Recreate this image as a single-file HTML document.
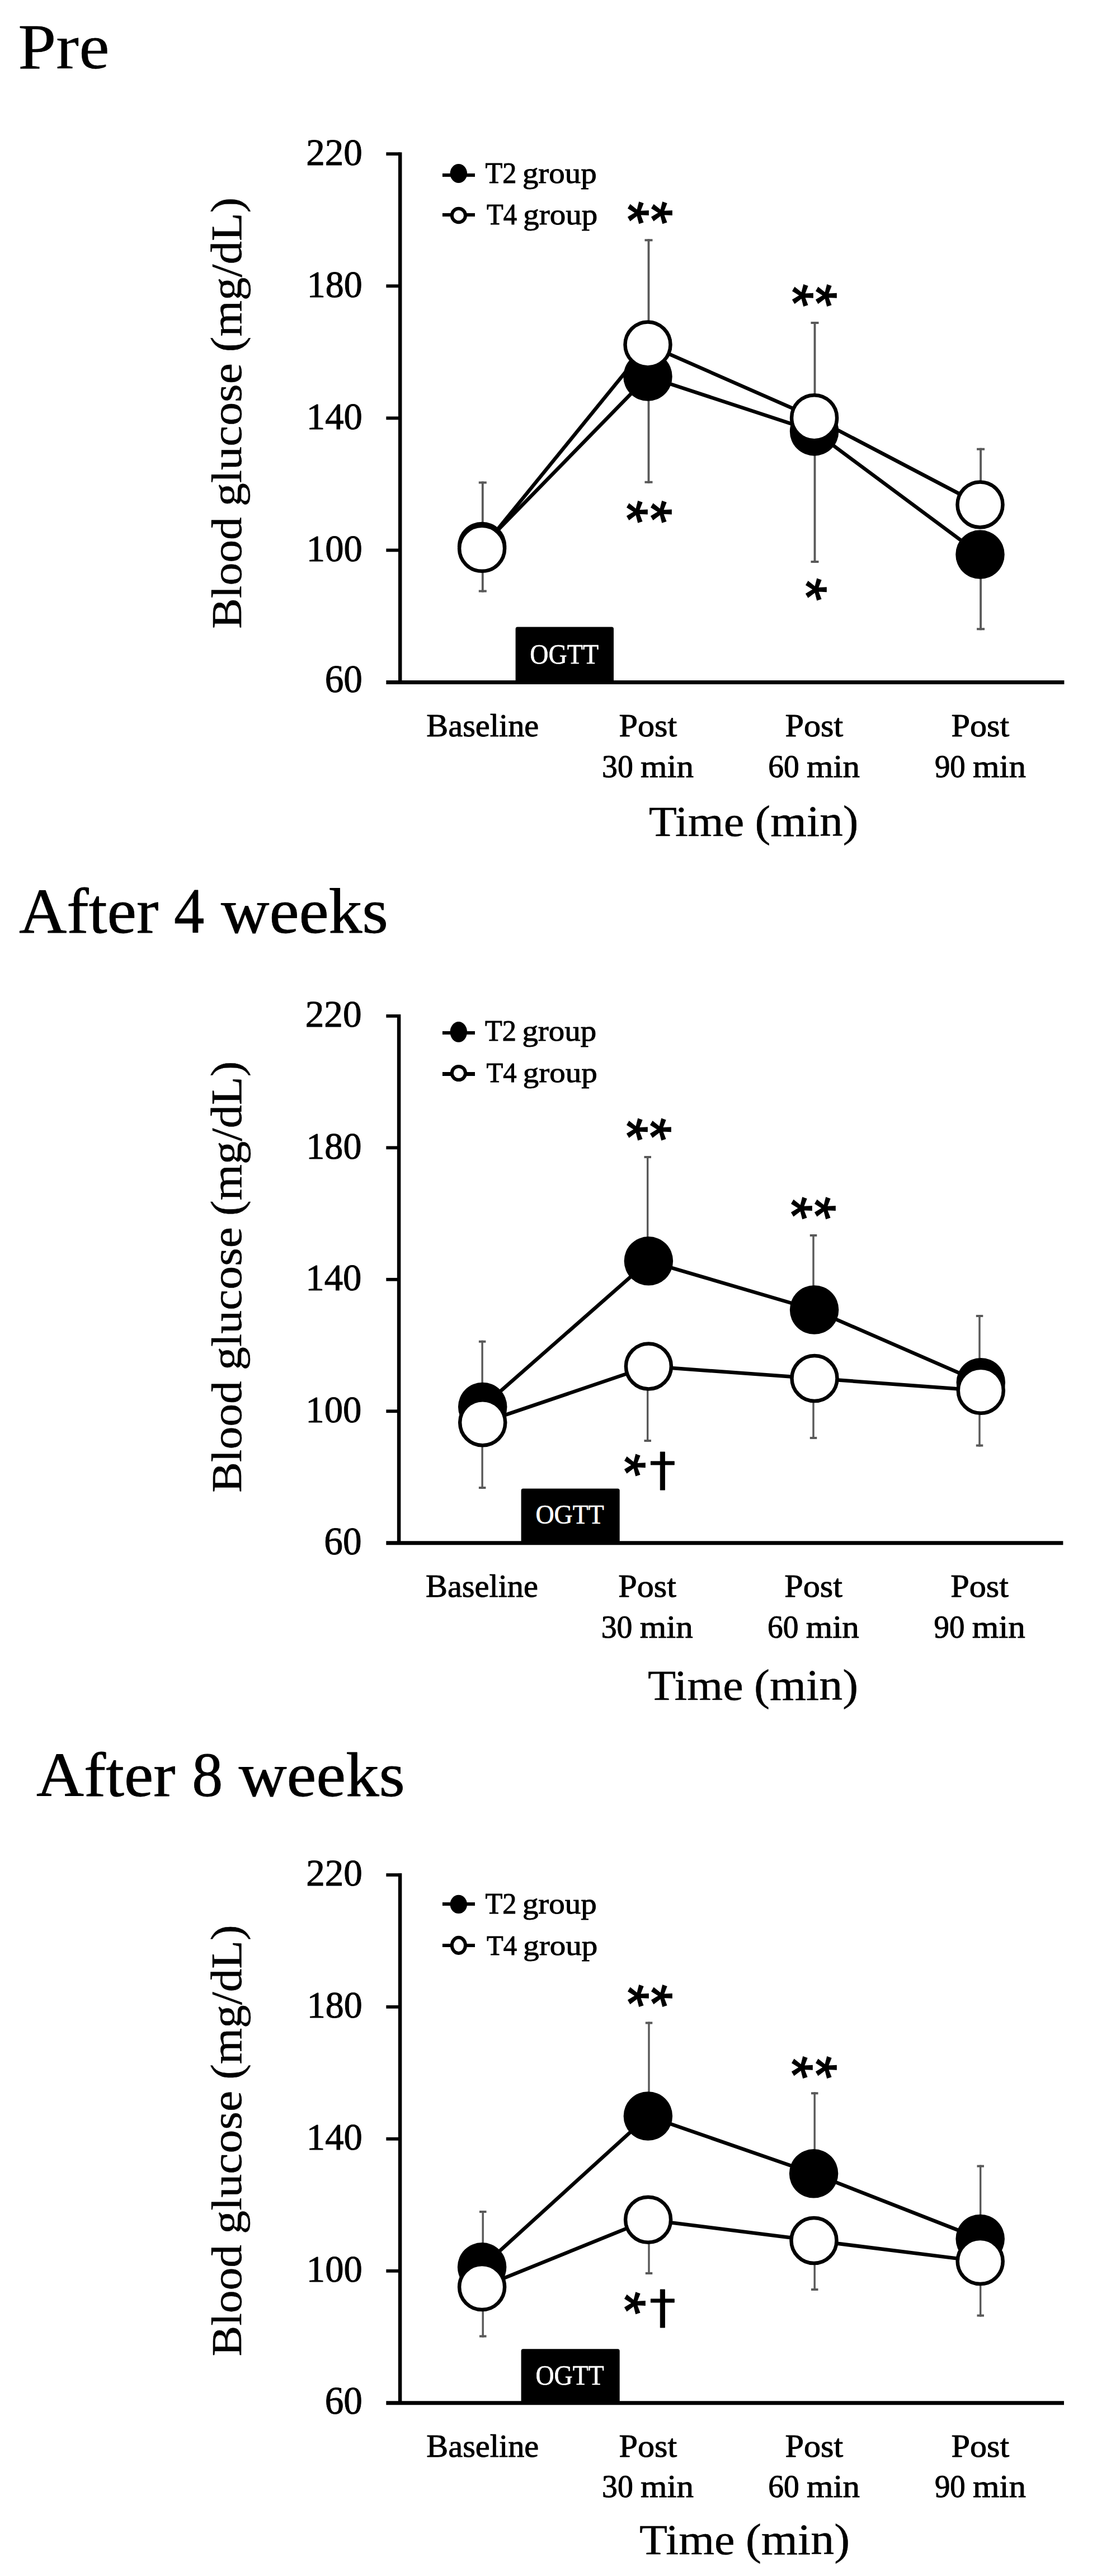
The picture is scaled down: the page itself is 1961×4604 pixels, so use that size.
<!DOCTYPE html>
<html lang="en"><head><meta charset="utf-8"><title>OGTT blood glucose</title>
<style>html,body{margin:0;padding:0;background:#fff}svg{display:block}text{font-family:"Liberation Serif", "DejaVu Serif", serif}</style></head><body>
<svg width="1961" height="4604" viewBox="0 0 1961 4604">
<rect width="1961" height="4604" fill="#fff"/>
<g>
<text transform="matrix(1.2260 0 0 1.1504 32.17 122.20)" font-size="100" fill="#000" stroke="#000" stroke-width="0.25" stroke-linejoin="round">Pre</text>
<path d="M862.8 860.6 V976.5 M862.8 980.3 V1058.4" stroke="#595959" stroke-width="3.8" fill="none"/>
<path d="M855.8 862.6 h14.0 M855.8 1056.4 h14.0" stroke="#595959" stroke-width="4" fill="none"/>
<path d="M1159.5 427.3 V616.0 M1159.5 673.0 V863.8" stroke="#595959" stroke-width="3.8" fill="none"/>
<path d="M1152.5 429.3 h14.0 M1152.5 861.8 h14.0" stroke="#595959" stroke-width="4" fill="none"/>
<path d="M1456.5 574.9 V746.7 M1456.5 770.9 V1005.9" stroke="#595959" stroke-width="3.8" fill="none"/>
<path d="M1449.5 576.9 h14.0 M1449.5 1003.9 h14.0" stroke="#595959" stroke-width="4" fill="none"/>
<path d="M1753.1 800.8 V902.0 M1753.1 991.1 V1126.2" stroke="#595959" stroke-width="3.8" fill="none"/>
<path d="M1746.1 802.8 h14.0 M1746.1 1124.2 h14.0" stroke="#595959" stroke-width="4" fill="none"/>
<polyline points="861.6,976.5 1158.0,673.0 1455.6,770.9 1752.0,991.1" fill="none" stroke="#000" stroke-width="6.5" stroke-linejoin="round"/>
<polyline points="861.6,980.3 1158.0,616.0 1455.6,746.7 1752.0,902.0" fill="none" stroke="#000" stroke-width="6.5" stroke-linejoin="round"/>
<circle cx="861.6" cy="976.5" r="43.75" fill="#000"/>
<circle cx="1158.0" cy="673.0" r="43.75" fill="#000"/>
<circle cx="1455.6" cy="770.9" r="43.75" fill="#000"/>
<circle cx="1752.0" cy="991.1" r="43.75" fill="#000"/>
<circle cx="861.6" cy="980.3" r="40.50" fill="#fff" stroke="#000" stroke-width="6.5"/>
<circle cx="1158.0" cy="616.0" r="40.50" fill="#fff" stroke="#000" stroke-width="6.5"/>
<circle cx="1455.6" cy="746.7" r="40.50" fill="#fff" stroke="#000" stroke-width="6.5"/>
<circle cx="1752.0" cy="902.0" r="40.50" fill="#fff" stroke="#000" stroke-width="6.5"/>
<path d="M715.2 272.2 V1219.5" stroke="#000" stroke-width="6.5" fill="none"/>
<path d="M690.3 1219.5 H1902.4" stroke="#000" stroke-width="7" fill="none"/>
<path d="M690.3 275.1 H715.2" stroke="#000" stroke-width="5.8" fill="none"/>
<text transform="matrix(0.6709 0 0 0.6859 547.18 294.51)" font-size="100" fill="#000" stroke="#000" stroke-width="1.47" stroke-linejoin="round">220</text>
<path d="M690.3 511.2 H715.2" stroke="#000" stroke-width="5.8" fill="none"/>
<text transform="matrix(0.6596 0 0 0.6859 548.83 530.61)" font-size="100" fill="#000" stroke="#000" stroke-width="1.49" stroke-linejoin="round">180</text>
<path d="M690.3 747.3 H715.2" stroke="#000" stroke-width="5.8" fill="none"/>
<text transform="matrix(0.6662 0 0 0.6859 547.87 766.71)" font-size="100" fill="#000" stroke="#000" stroke-width="1.48" stroke-linejoin="round">140</text>
<path d="M690.3 983.4 H715.2" stroke="#000" stroke-width="5.8" fill="none"/>
<text transform="matrix(0.6662 0 0 0.6859 547.87 1002.81)" font-size="100" fill="#000" stroke="#000" stroke-width="1.48" stroke-linejoin="round">100</text>
<text transform="matrix(0.6717 0 0 0.6919 580.65 1236.61)" font-size="100" fill="#000" stroke="#000" stroke-width="1.47" stroke-linejoin="round">60</text>
<rect x="921.6" y="1120.4" width="175.4" height="99.1" rx="3.5" fill="#000"/>
<text transform="matrix(0.4605 0 0 0.5102 947.36 1186.00)" font-size="100" fill="#fff" stroke="#fff" stroke-width="1.24" stroke-linejoin="round">OGTT</text>
<path d="M790.9 313.0 H849" stroke="#000" stroke-width="6" fill="none"/>
<path d="M790.9 383.9 H849" stroke="#000" stroke-width="6.0" fill="none"/>
<ellipse cx="819.8" cy="310.0" rx="15.2" ry="17.0" fill="#000"/>
<ellipse cx="819.9" cy="385.0" rx="12.1" ry="12.2" fill="#fff" stroke="#000" stroke-width="6"/>
<text transform="matrix(0.5031 0 0 0.5282 867.62 327.10)" font-size="100" fill="#000" stroke="#000" stroke-width="1.94" stroke-linejoin="round">T2</text>
<text transform="matrix(0.5691 0 0 0.5282 933.88 327.10)" font-size="100" fill="#000" stroke="#000" stroke-width="1.82" stroke-linejoin="round">group</text>
<text transform="matrix(0.4863 0 0 0.5252 870.05 400.70)" font-size="100" fill="#000" stroke="#000" stroke-width="1.98" stroke-linejoin="round">T4</text>
<text transform="matrix(0.5700 0 0 0.5252 935.28 400.70)" font-size="100" fill="#000" stroke="#000" stroke-width="1.83" stroke-linejoin="round">group</text>
<text transform="translate(1085.07 348.79) rotate(90) scale(1.0535 1.0128)" font-size="100" style="font-family:'Liberation Mono',monospace" fill="#000" stroke="#000" stroke-width="1.74" stroke-linejoin="miter">*</text>
<text transform="translate(1127.17 348.79) rotate(90) scale(1.0535 1.0128)" font-size="100" style="font-family:'Liberation Mono',monospace" fill="#000" stroke="#000" stroke-width="1.74" stroke-linejoin="miter">*</text>
<text transform="translate(1379.37 496.39) rotate(90) scale(1.0535 1.0128)" font-size="100" style="font-family:'Liberation Mono',monospace" fill="#000" stroke="#000" stroke-width="1.74" stroke-linejoin="miter">*</text>
<text transform="translate(1421.47 496.39) rotate(90) scale(1.0535 1.0128)" font-size="100" style="font-family:'Liberation Mono',monospace" fill="#000" stroke="#000" stroke-width="1.74" stroke-linejoin="miter">*</text>
<text transform="translate(1083.47 883.29) rotate(90) scale(1.0535 1.0128)" font-size="100" style="font-family:'Liberation Mono',monospace" fill="#000" stroke="#000" stroke-width="1.74" stroke-linejoin="miter">*</text>
<text transform="translate(1125.57 883.29) rotate(90) scale(1.0535 1.0128)" font-size="100" style="font-family:'Liberation Mono',monospace" fill="#000" stroke="#000" stroke-width="1.74" stroke-linejoin="miter">*</text>
<text transform="translate(1402.77 1021.89) rotate(90) scale(1.0535 1.0128)" font-size="100" style="font-family:'Liberation Mono',monospace" fill="#000" stroke="#000" stroke-width="1.74" stroke-linejoin="miter">*</text>
<text transform="matrix(0.5836 0 0 0.5755 762.35 1315.80)" font-size="100" fill="#000" stroke="#000" stroke-width="1.73" stroke-linejoin="round">Baseline</text>
<text transform="matrix(0.6021 0 0 0.5771 1106.49 1315.80)" font-size="100" fill="#000" stroke="#000" stroke-width="1.70" stroke-linejoin="round">Post</text>
<text transform="matrix(0.5574 0 0 0.5669 1076.05 1388.70)" font-size="100" fill="#000" stroke="#000" stroke-width="1.78" stroke-linejoin="round">30</text>
<text transform="matrix(0.6112 0 0 0.5669 1144.98 1388.70)" font-size="100" fill="#000" stroke="#000" stroke-width="1.70" stroke-linejoin="round">min</text>
<text transform="matrix(0.6021 0 0 0.5771 1403.49 1315.80)" font-size="100" fill="#000" stroke="#000" stroke-width="1.70" stroke-linejoin="round">Post</text>
<text transform="matrix(0.5543 0 0 0.5669 1373.34 1388.70)" font-size="100" fill="#000" stroke="#000" stroke-width="1.78" stroke-linejoin="round">60</text>
<text transform="matrix(0.6112 0 0 0.5669 1441.98 1388.70)" font-size="100" fill="#000" stroke="#000" stroke-width="1.70" stroke-linejoin="round">min</text>
<text transform="matrix(0.6021 0 0 0.5771 1700.49 1315.80)" font-size="100" fill="#000" stroke="#000" stroke-width="1.70" stroke-linejoin="round">Post</text>
<text transform="matrix(0.5484 0 0 0.5669 1670.92 1388.70)" font-size="100" fill="#000" stroke="#000" stroke-width="1.79" stroke-linejoin="round">90</text>
<text transform="matrix(0.6112 0 0 0.5669 1738.98 1388.70)" font-size="100" fill="#000" stroke="#000" stroke-width="1.70" stroke-linejoin="round">min</text>
<text transform="matrix(0.8218 0 0 0.7641 1159.71 1494.30)" font-size="100" fill="#000" stroke="#000" stroke-width="0.63" stroke-linejoin="round">Time</text>
<text transform="matrix(0.8319 0 0 0.7863 1349.61 1494.30)" font-size="100" fill="#000" stroke="#000" stroke-width="0.62" stroke-linejoin="round">(min)</text>
<text transform="matrix(0 -1 1 0 430.90 1121.40) matrix(0.8150 0 0 0.7702 -2.19 0.00)" font-size="100" fill="#000" stroke="#000" stroke-width="0.63" stroke-linejoin="round">Blood</text>
<text transform="matrix(0 -1 1 0 430.90 1121.40) matrix(0.8380 0 0 0.7702 216.29 0.00)" font-size="100" fill="#000" stroke="#000" stroke-width="0.62" stroke-linejoin="round">glucose</text>
<text transform="matrix(0 -1 1 0 430.90 1121.40) matrix(0.8293 0 0 0.7921 492.22 0.00)" font-size="100" fill="#000" stroke="#000" stroke-width="0.62" stroke-linejoin="round">(mg/dL)</text>
</g>
<g>
<text transform="matrix(1.1818 0 0 1.1348 34.02 1666.80)" font-size="100" fill="#000" stroke="#000" stroke-width="0.69" stroke-linejoin="round">After</text>
<text transform="matrix(1.0860 0 0 1.1348 310.93 1666.80)" font-size="100" fill="#000" stroke="#000" stroke-width="0.72" stroke-linejoin="round">4</text>
<text transform="matrix(1.1963 0 0 1.1348 395.00 1666.80)" font-size="100" fill="#000" stroke="#000" stroke-width="0.69" stroke-linejoin="round">weeks</text>
<path d="M862.1 2395.8 V2514.5 M862.1 2542.7 V2661.1" stroke="#595959" stroke-width="3.4" fill="none"/>
<path d="M855.9 2397.8 h12.5 M855.9 2659.1 h12.5" stroke="#595959" stroke-width="4" fill="none"/>
<path d="M1157.7 2066.0 V2253.8 M1157.7 2442.0 V2576.9" stroke="#595959" stroke-width="3.4" fill="none"/>
<path d="M1151.5 2068.0 h12.5 M1151.5 2574.9 h12.5" stroke="#595959" stroke-width="4" fill="none"/>
<path d="M1454.0 2206.0 V2341.0 M1454.0 2463.5 V2571.9" stroke="#595959" stroke-width="3.4" fill="none"/>
<path d="M1447.8 2208.0 h12.5 M1447.8 2569.9 h12.5" stroke="#595959" stroke-width="4" fill="none"/>
<path d="M1751.0 2349.9 V2470.7 M1751.0 2485.2 V2585.6" stroke="#595959" stroke-width="3.4" fill="none"/>
<path d="M1744.8 2351.9 h12.5 M1744.8 2583.6 h12.5" stroke="#595959" stroke-width="4" fill="none"/>
<polyline points="862.7,2514.5 1159.4,2253.8 1455.6,2341.0 1753.3,2470.7" fill="none" stroke="#000" stroke-width="6.5" stroke-linejoin="round"/>
<polyline points="862.7,2542.7 1159.4,2442.0 1456.0,2463.5 1753.3,2485.2" fill="none" stroke="#000" stroke-width="6.5" stroke-linejoin="round"/>
<circle cx="862.7" cy="2514.5" r="43.75" fill="#000"/>
<circle cx="1159.4" cy="2253.8" r="43.75" fill="#000"/>
<circle cx="1455.6" cy="2341.0" r="43.75" fill="#000"/>
<circle cx="1753.3" cy="2470.7" r="43.75" fill="#000"/>
<circle cx="862.7" cy="2542.7" r="40.50" fill="#fff" stroke="#000" stroke-width="6.5"/>
<circle cx="1159.4" cy="2442.0" r="40.50" fill="#fff" stroke="#000" stroke-width="6.5"/>
<circle cx="1456.0" cy="2463.5" r="40.50" fill="#fff" stroke="#000" stroke-width="6.5"/>
<circle cx="1753.3" cy="2485.2" r="40.50" fill="#fff" stroke="#000" stroke-width="6.5"/>
<path d="M713.1 1813.0 V2757.7" stroke="#000" stroke-width="6.5" fill="none"/>
<path d="M690.3 2757.7 H1900.4" stroke="#000" stroke-width="7" fill="none"/>
<path d="M690.3 1815.9 H713.1" stroke="#000" stroke-width="5.8" fill="none"/>
<text transform="matrix(0.6723 0 0 0.6859 545.67 1835.31)" font-size="100" fill="#000" stroke="#000" stroke-width="1.47" stroke-linejoin="round">220</text>
<path d="M690.3 2051.3 H713.1" stroke="#000" stroke-width="5.8" fill="none"/>
<text transform="matrix(0.6611 0 0 0.6859 547.32 2070.76)" font-size="100" fill="#000" stroke="#000" stroke-width="1.48" stroke-linejoin="round">180</text>
<path d="M690.3 2286.8 H713.1" stroke="#000" stroke-width="5.8" fill="none"/>
<text transform="matrix(0.6676 0 0 0.6859 546.36 2306.21)" font-size="100" fill="#000" stroke="#000" stroke-width="1.48" stroke-linejoin="round">140</text>
<path d="M690.3 2522.2 H713.1" stroke="#000" stroke-width="5.8" fill="none"/>
<text transform="matrix(0.6676 0 0 0.6859 546.36 2541.66)" font-size="100" fill="#000" stroke="#000" stroke-width="1.48" stroke-linejoin="round">100</text>
<text transform="matrix(0.6717 0 0 0.6948 579.35 2777.71)" font-size="100" fill="#000" stroke="#000" stroke-width="1.46" stroke-linejoin="round">60</text>
<rect x="931.6" y="2660.5" width="176.1" height="97.2" rx="3.5" fill="#000"/>
<text transform="matrix(0.4586 0 0 0.4906 957.47 2723.40)" font-size="100" fill="#fff" stroke="#fff" stroke-width="1.26" stroke-linejoin="round">OGTT</text>
<path d="M790.9 1846.0 H849" stroke="#000" stroke-width="6" fill="none"/>
<path d="M790.9 1919.5 H849" stroke="#000" stroke-width="7.0" fill="none"/>
<ellipse cx="819.8" cy="1844.4" rx="15.2" ry="18.4" fill="#000"/>
<ellipse cx="819.9" cy="1918.0" rx="12.1" ry="12.1" fill="#fff" stroke="#000" stroke-width="6"/>
<text transform="matrix(0.5031 0 0 0.5221 867.12 1859.70)" font-size="100" fill="#000" stroke="#000" stroke-width="1.95" stroke-linejoin="round">T2</text>
<text transform="matrix(0.5691 0 0 0.5221 933.38 1859.70)" font-size="100" fill="#000" stroke="#000" stroke-width="1.83" stroke-linejoin="round">group</text>
<text transform="matrix(0.4863 0 0 0.5160 869.55 1933.50)" font-size="100" fill="#000" stroke="#000" stroke-width="2.00" stroke-linejoin="round">T4</text>
<text transform="matrix(0.5700 0 0 0.5160 934.78 1933.50)" font-size="100" fill="#000" stroke="#000" stroke-width="1.84" stroke-linejoin="round">group</text>
<text transform="translate(1082.77 1986.89) rotate(90) scale(1.0535 1.0128)" font-size="100" style="font-family:'Liberation Mono',monospace" fill="#000" stroke="#000" stroke-width="1.74" stroke-linejoin="miter">*</text>
<text transform="translate(1124.87 1986.89) rotate(90) scale(1.0535 1.0128)" font-size="100" style="font-family:'Liberation Mono',monospace" fill="#000" stroke="#000" stroke-width="1.74" stroke-linejoin="miter">*</text>
<text transform="translate(1377.37 2127.69) rotate(90) scale(1.0535 1.0128)" font-size="100" style="font-family:'Liberation Mono',monospace" fill="#000" stroke="#000" stroke-width="1.74" stroke-linejoin="miter">*</text>
<text transform="translate(1419.47 2127.69) rotate(90) scale(1.0535 1.0128)" font-size="100" style="font-family:'Liberation Mono',monospace" fill="#000" stroke="#000" stroke-width="1.74" stroke-linejoin="miter">*</text>
<text transform="translate(1078.97 2586.89) rotate(90) scale(1.0535 1.0128)" font-size="100" style="font-family:'Liberation Mono',monospace" fill="#000" stroke="#000" stroke-width="1.74" stroke-linejoin="miter">*</text>
<text transform="matrix(0.9438 0 0 0.8169 1160.85 2654.99)" font-size="100" style="font-family:'DejaVu Sans',sans-serif" fill="#000" stroke="#000" stroke-width="1.02" stroke-linejoin="round">†</text>
<text transform="matrix(0.5836 0 0 0.5755 761.05 2854.00)" font-size="100" fill="#000" stroke="#000" stroke-width="1.73" stroke-linejoin="round">Baseline</text>
<text transform="matrix(0.6021 0 0 0.5771 1105.19 2854.00)" font-size="100" fill="#000" stroke="#000" stroke-width="1.70" stroke-linejoin="round">Post</text>
<text transform="matrix(0.5574 0 0 0.5669 1074.75 2926.90)" font-size="100" fill="#000" stroke="#000" stroke-width="1.78" stroke-linejoin="round">30</text>
<text transform="matrix(0.6112 0 0 0.5669 1143.68 2926.90)" font-size="100" fill="#000" stroke="#000" stroke-width="1.70" stroke-linejoin="round">min</text>
<text transform="matrix(0.6021 0 0 0.5771 1402.19 2854.00)" font-size="100" fill="#000" stroke="#000" stroke-width="1.70" stroke-linejoin="round">Post</text>
<text transform="matrix(0.5543 0 0 0.5669 1372.04 2926.90)" font-size="100" fill="#000" stroke="#000" stroke-width="1.78" stroke-linejoin="round">60</text>
<text transform="matrix(0.6112 0 0 0.5669 1440.68 2926.90)" font-size="100" fill="#000" stroke="#000" stroke-width="1.70" stroke-linejoin="round">min</text>
<text transform="matrix(0.6021 0 0 0.5771 1699.19 2854.00)" font-size="100" fill="#000" stroke="#000" stroke-width="1.70" stroke-linejoin="round">Post</text>
<text transform="matrix(0.5484 0 0 0.5669 1669.62 2926.90)" font-size="100" fill="#000" stroke="#000" stroke-width="1.79" stroke-linejoin="round">90</text>
<text transform="matrix(0.6112 0 0 0.5669 1737.68 2926.90)" font-size="100" fill="#000" stroke="#000" stroke-width="1.70" stroke-linejoin="round">min</text>
<text transform="matrix(0.8218 0 0 0.7641 1158.11 3038.00)" font-size="100" fill="#000" stroke="#000" stroke-width="0.63" stroke-linejoin="round">Time</text>
<text transform="matrix(0.8380 0 0 0.7863 1347.98 3038.00)" font-size="100" fill="#000" stroke="#000" stroke-width="0.62" stroke-linejoin="round">(min)</text>
<text transform="matrix(0 -1 1 0 430.90 2665.30) matrix(0.8150 0 0 0.7702 -2.19 0.00)" font-size="100" fill="#000" stroke="#000" stroke-width="0.63" stroke-linejoin="round">Blood</text>
<text transform="matrix(0 -1 1 0 430.90 2665.30) matrix(0.8380 0 0 0.7702 216.29 0.00)" font-size="100" fill="#000" stroke="#000" stroke-width="0.62" stroke-linejoin="round">glucose</text>
<text transform="matrix(0 -1 1 0 430.90 2665.30) matrix(0.8293 0 0 0.7921 492.22 0.00)" font-size="100" fill="#000" stroke="#000" stroke-width="0.62" stroke-linejoin="round">(mg/dL)</text>
</g>
<g>
<text transform="matrix(1.1770 0 0 1.1262 65.02 3210.10)" font-size="100" fill="#000" stroke="#000" stroke-width="0.69" stroke-linejoin="round">After</text>
<text transform="matrix(1.1012 0 0 1.1262 343.27 3210.10)" font-size="100" fill="#000" stroke="#000" stroke-width="0.72" stroke-linejoin="round">8</text>
<text transform="matrix(1.1894 0 0 1.1262 426.70 3210.10)" font-size="100" fill="#000" stroke="#000" stroke-width="0.69" stroke-linejoin="round">weeks</text>
<path d="M863.2 3951.1 V4051.8 M863.2 4087.6 V4177.6" stroke="#595959" stroke-width="3.4" fill="none"/>
<path d="M857.0 3953.1 h12.5 M857.0 4175.6 h12.5" stroke="#595959" stroke-width="4" fill="none"/>
<path d="M1160.0 3613.5 V3782.0 M1160.0 3967.2 V4065.0" stroke="#595959" stroke-width="3.4" fill="none"/>
<path d="M1153.8 3615.5 h12.5 M1153.8 4063.0 h12.5" stroke="#595959" stroke-width="4" fill="none"/>
<path d="M1456.2 3739.3 V3884.8 M1456.2 4004.5 V4093.9" stroke="#595959" stroke-width="3.4" fill="none"/>
<path d="M1450.0 3741.3 h12.5 M1450.0 4091.9 h12.5" stroke="#595959" stroke-width="4" fill="none"/>
<path d="M1752.7 3869.6 V4001.4 M1752.7 4041.6 V4140.4" stroke="#595959" stroke-width="3.4" fill="none"/>
<path d="M1746.5 3871.6 h12.5 M1746.5 4138.4 h12.5" stroke="#595959" stroke-width="4" fill="none"/>
<polyline points="861.6,4051.8 1158.4,3782.0 1454.6,3884.8 1752.2,4001.4" fill="none" stroke="#000" stroke-width="6.5" stroke-linejoin="round"/>
<polyline points="861.6,4087.6 1158.6,3967.2 1455.0,4004.5 1752.2,4041.6" fill="none" stroke="#000" stroke-width="6.5" stroke-linejoin="round"/>
<circle cx="861.6" cy="4051.8" r="43.75" fill="#000"/>
<circle cx="1158.4" cy="3782.0" r="43.75" fill="#000"/>
<circle cx="1454.6" cy="3884.8" r="43.75" fill="#000"/>
<circle cx="1752.2" cy="4001.4" r="43.75" fill="#000"/>
<circle cx="861.6" cy="4087.6" r="40.50" fill="#fff" stroke="#000" stroke-width="6.5"/>
<circle cx="1158.6" cy="3967.2" r="40.50" fill="#fff" stroke="#000" stroke-width="6.5"/>
<circle cx="1455.0" cy="4004.5" r="40.50" fill="#fff" stroke="#000" stroke-width="6.5"/>
<circle cx="1752.2" cy="4041.6" r="40.50" fill="#fff" stroke="#000" stroke-width="6.5"/>
<path d="M715.1 3348.1 V4294.7" stroke="#000" stroke-width="6.5" fill="none"/>
<path d="M690.3 4294.7 H1902.0" stroke="#000" stroke-width="7" fill="none"/>
<path d="M690.3 3351.0 H715.1" stroke="#000" stroke-width="5.8" fill="none"/>
<text transform="matrix(0.6709 0 0 0.6859 547.18 3370.41)" font-size="100" fill="#000" stroke="#000" stroke-width="1.47" stroke-linejoin="round">220</text>
<path d="M690.3 3586.9 H715.1" stroke="#000" stroke-width="5.8" fill="none"/>
<text transform="matrix(0.6596 0 0 0.6859 548.83 3606.34)" font-size="100" fill="#000" stroke="#000" stroke-width="1.49" stroke-linejoin="round">180</text>
<path d="M690.3 3822.8 H715.1" stroke="#000" stroke-width="5.8" fill="none"/>
<text transform="matrix(0.6662 0 0 0.6859 547.87 3842.26)" font-size="100" fill="#000" stroke="#000" stroke-width="1.48" stroke-linejoin="round">140</text>
<path d="M690.3 4058.8 H715.1" stroke="#000" stroke-width="5.8" fill="none"/>
<text transform="matrix(0.6662 0 0 0.6859 547.87 4078.19)" font-size="100" fill="#000" stroke="#000" stroke-width="1.48" stroke-linejoin="round">100</text>
<text transform="matrix(0.6717 0 0 0.6963 580.65 4314.00)" font-size="100" fill="#000" stroke="#000" stroke-width="1.46" stroke-linejoin="round">60</text>
<rect x="931.6" y="4198.3" width="176.1" height="96.4" rx="3.5" fill="#000"/>
<text transform="matrix(0.4586 0 0 0.5072 957.47 4262.30)" font-size="100" fill="#fff" stroke="#fff" stroke-width="1.24" stroke-linejoin="round">OGTT</text>
<path d="M790.9 3403.0 H849" stroke="#000" stroke-width="6" fill="none"/>
<path d="M790.9 3477.0 H849" stroke="#000" stroke-width="6.0" fill="none"/>
<ellipse cx="819.8" cy="3403.4" rx="15.2" ry="16.6" fill="#000"/>
<ellipse cx="819.9" cy="3476.9" rx="12.1" ry="14.1" fill="#fff" stroke="#000" stroke-width="6"/>
<text transform="matrix(0.5031 0 0 0.5221 867.62 3419.70)" font-size="100" fill="#000" stroke="#000" stroke-width="1.95" stroke-linejoin="round">T2</text>
<text transform="matrix(0.5691 0 0 0.5221 933.88 3419.70)" font-size="100" fill="#000" stroke="#000" stroke-width="1.83" stroke-linejoin="round">group</text>
<text transform="matrix(0.4863 0 0 0.5160 870.05 3493.50)" font-size="100" fill="#000" stroke="#000" stroke-width="2.00" stroke-linejoin="round">T4</text>
<text transform="matrix(0.5700 0 0 0.5160 935.28 3493.50)" font-size="100" fill="#000" stroke="#000" stroke-width="1.84" stroke-linejoin="round">group</text>
<text transform="translate(1084.97 3535.39) rotate(90) scale(1.0535 1.0128)" font-size="100" style="font-family:'Liberation Mono',monospace" fill="#000" stroke="#000" stroke-width="1.74" stroke-linejoin="miter">*</text>
<text transform="translate(1127.07 3535.39) rotate(90) scale(1.0535 1.0128)" font-size="100" style="font-family:'Liberation Mono',monospace" fill="#000" stroke="#000" stroke-width="1.74" stroke-linejoin="miter">*</text>
<text transform="translate(1378.47 3663.39) rotate(90) scale(1.0535 1.0128)" font-size="100" style="font-family:'Liberation Mono',monospace" fill="#000" stroke="#000" stroke-width="1.74" stroke-linejoin="miter">*</text>
<text transform="translate(1420.57 3663.39) rotate(90) scale(1.0535 1.0128)" font-size="100" style="font-family:'Liberation Mono',monospace" fill="#000" stroke="#000" stroke-width="1.74" stroke-linejoin="miter">*</text>
<text transform="translate(1078.97 4084.79) rotate(90) scale(1.0535 1.0128)" font-size="100" style="font-family:'Liberation Mono',monospace" fill="#000" stroke="#000" stroke-width="1.74" stroke-linejoin="miter">*</text>
<text transform="matrix(0.9438 0 0 0.8169 1160.85 4152.09)" font-size="100" style="font-family:'DejaVu Sans',sans-serif" fill="#000" stroke="#000" stroke-width="1.02" stroke-linejoin="round">†</text>
<text transform="matrix(0.5836 0 0 0.5755 762.35 4390.50)" font-size="100" fill="#000" stroke="#000" stroke-width="1.73" stroke-linejoin="round">Baseline</text>
<text transform="matrix(0.6021 0 0 0.5771 1106.49 4390.50)" font-size="100" fill="#000" stroke="#000" stroke-width="1.70" stroke-linejoin="round">Post</text>
<text transform="matrix(0.5574 0 0 0.5669 1076.05 4463.40)" font-size="100" fill="#000" stroke="#000" stroke-width="1.78" stroke-linejoin="round">30</text>
<text transform="matrix(0.6112 0 0 0.5669 1144.98 4463.40)" font-size="100" fill="#000" stroke="#000" stroke-width="1.70" stroke-linejoin="round">min</text>
<text transform="matrix(0.6021 0 0 0.5771 1403.49 4390.50)" font-size="100" fill="#000" stroke="#000" stroke-width="1.70" stroke-linejoin="round">Post</text>
<text transform="matrix(0.5543 0 0 0.5669 1373.34 4463.40)" font-size="100" fill="#000" stroke="#000" stroke-width="1.78" stroke-linejoin="round">60</text>
<text transform="matrix(0.6112 0 0 0.5669 1441.98 4463.40)" font-size="100" fill="#000" stroke="#000" stroke-width="1.70" stroke-linejoin="round">min</text>
<text transform="matrix(0.6021 0 0 0.5771 1700.49 4390.50)" font-size="100" fill="#000" stroke="#000" stroke-width="1.70" stroke-linejoin="round">Post</text>
<text transform="matrix(0.5484 0 0 0.5669 1670.92 4463.40)" font-size="100" fill="#000" stroke="#000" stroke-width="1.79" stroke-linejoin="round">90</text>
<text transform="matrix(0.6112 0 0 0.5669 1738.98 4463.40)" font-size="100" fill="#000" stroke="#000" stroke-width="1.70" stroke-linejoin="round">min</text>
<text transform="matrix(0.8218 0 0 0.7580 1143.01 4564.80)" font-size="100" fill="#000" stroke="#000" stroke-width="0.63" stroke-linejoin="round">Time</text>
<text transform="matrix(0.8385 0 0 0.7805 1332.88 4564.80)" font-size="100" fill="#000" stroke="#000" stroke-width="0.62" stroke-linejoin="round">(min)</text>
<text transform="matrix(0 -1 1 0 430.90 4209.00) matrix(0.8150 0 0 0.7702 -2.19 0.00)" font-size="100" fill="#000" stroke="#000" stroke-width="0.63" stroke-linejoin="round">Blood</text>
<text transform="matrix(0 -1 1 0 430.90 4209.00) matrix(0.8380 0 0 0.7702 216.29 0.00)" font-size="100" fill="#000" stroke="#000" stroke-width="0.62" stroke-linejoin="round">glucose</text>
<text transform="matrix(0 -1 1 0 430.90 4209.00) matrix(0.8293 0 0 0.7921 492.22 0.00)" font-size="100" fill="#000" stroke="#000" stroke-width="0.62" stroke-linejoin="round">(mg/dL)</text>
</g>
</svg></body></html>
